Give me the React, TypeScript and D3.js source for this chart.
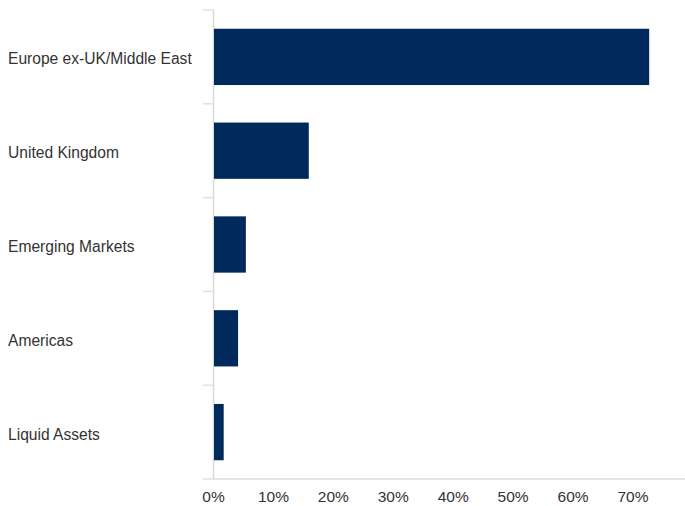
import React from "react";
import * as d3 from "d3";

const categories = ["Europe ex-UK/Middle East", "United Kingdom", "Emerging Markets", "Americas", "Liquid Assets"];
const values = [72.7, 15.9, 5.4, 4.1, 1.7];
const xTicks = [0, 10, 20, 30, 40, 50, 60, 70];

export default function App() {
  const W = 685, H = 506;
  const x = d3.scaleLinear().domain([0, 70]).range([213.5, 633]);
  const y = d3.scaleBand<string>().domain(categories).range([10, 479]).paddingInner(0.4).paddingOuter(0.2);
  const bandEdges = categories.map((_, i) => 10 + i * (469 / categories.length));
  bandEdges.push(479);
  return (
    <svg width={W} height={H} style={{ position: "absolute", left: 0, top: 0, fontFamily: "'Liberation Sans', Arial, sans-serif" }}>
      <rect width={W} height={H} fill="#fff" />
      {bandEdges.map((e, i) => (
        <line key={i} x1={203} x2={214} y1={e} y2={e} stroke="#dde0ee" strokeWidth={1.5} />
      ))}
      <line x1={214} x2={685} y1={479} y2={479} stroke="#dcdcdc" strokeWidth={1.5} />
      <line x1={213.5} x2={213.5} y1={10} y2={479} stroke="#d9d9d9" strokeWidth={1.5} />
      {categories.map((c, i) => (
        <rect key={c} x={x(0) + 0.5} y={y(c)!} width={x(values[i]) - x(0) - 0.5} height={y.bandwidth()} fill="#002a5c" />
      ))}
      {categories.map((c) => (
        <text key={c} x={8} y={y(c)! + y.bandwidth() / 2 + 7.5} fontSize={15.6} fill="#333">{c}</text>
      ))}
      {xTicks.map((t) => (
        <text key={t} x={x(t)} y={502} textAnchor="middle" fontSize={15.5} fill="#333">{t}%</text>
      ))}
    </svg>
  );
}
